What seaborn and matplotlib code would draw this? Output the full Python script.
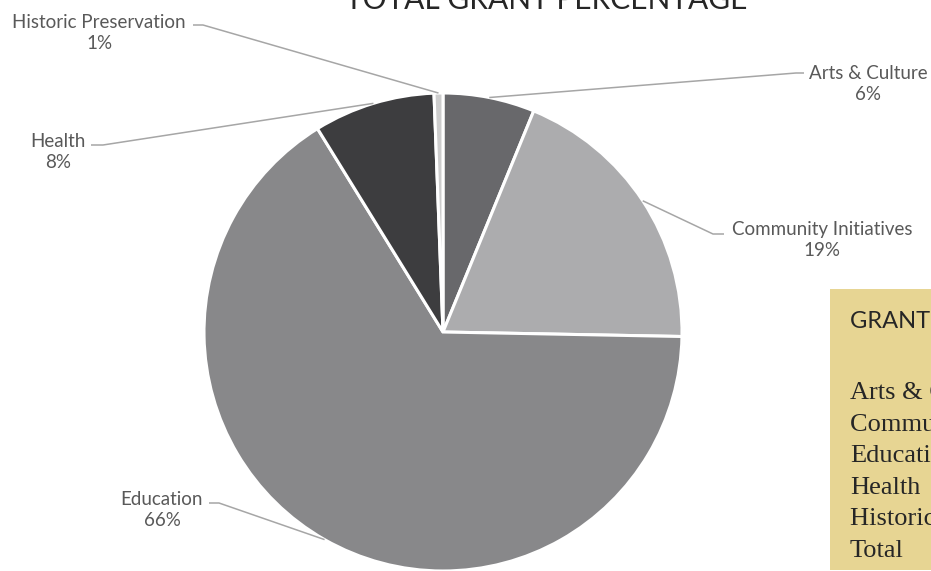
import matplotlib
matplotlib.use("Agg")
import numpy as np
import matplotlib.pyplot as plt
from matplotlib.patches import Rectangle
import seaborn as sns

# Datos del gráfico
categories = ["Arts & Culture", "Community Initiatives", "Education",
              "Health", "Historic Preservation"]
shares = [6.2, 19.1, 65.9, 8.2, 0.6]
slice_colors = ["#68686b", "#acacae", "#88888a", "#3d3d3f", "#cdcdcd"]
table_title = "GRANT TOTALS"
table_rows = ["Arts & Culture", "Community Initiatives", "Education",
              "Health", "Historic Preservation", "Total"]

# Geometría en píxeles de la imagen
W, H = 931, 571
CX, CY, R = 443, 332, 239


def px(x, y):
    """Convierte coordenadas de píxel a coordenadas del eje."""
    return (x - CX) / R, (CY - y) / R


# Posición de cada etiqueta: centro del texto, inicio y codo de la línea guía
label_layout = {
    "Arts & Culture": ((868, 84), (804, 73), (796, 73)),
    "Community Initiatives": ((822, 240), (724, 234), (713, 234)),
    "Education": ((162, 510), (209, 503), (219, 503)),
    "Health": ((58, 152), (91, 145), (103, 145)),
    "Historic Preservation": ((99, 33), (193, 25), (203, 25)),
}

sns.set_theme(style="white")
plt.rcParams["font.family"] = ["Lato", "DejaVu Sans"]

fig = plt.figure(figsize=(W / 100, H / 100), dpi=100)
ax = fig.add_axes([0, 0, 1, 1])

wedges, _ = ax.pie(shares, colors=slice_colors, startangle=90, counterclock=False,
                   wedgeprops=dict(edgecolor="white", linewidth=2.2))
ax.set_xlim(-CX / R, (W - CX) / R)
ax.set_ylim(-(H - CY) / R, CY / R)
ax.set_aspect("auto")
ax.axis("off")

total = sum(shares)
for wedge, cat, val in zip(wedges, categories, shares):
    (tx, ty), start, elbow = label_layout[cat]
    mid = np.deg2rad((wedge.theta1 + wedge.theta2) / 2)
    edge = (np.cos(mid) * wedge.r, np.sin(mid) * wedge.r)
    p0, p1 = px(*start), px(*elbow)
    ax.plot([p0[0], p1[0], edge[0]], [p0[1], p1[1], edge[1]],
            color="#a6a6a6", lw=1.1, solid_capstyle="butt")
    ax.text(*px(tx, ty), f"{cat}\n{round(val / total * 100):.0f}%",
            ha="center", va="center", fontsize=13.5, color="#595959",
            linespacing=1.3)

# Título (cortado en la parte superior)
ax.text(*px(546, 9), "TOTAL GRANT PERCENTAGE", ha="center", va="baseline",
        fontsize=21.5, color="#262626")

# Recuadro con la tabla de totales
x0, y0 = px(830, 570)
ax.add_patch(Rectangle((x0, y0), (W + 10 - 830) / R, (570 - 289) / R,
                       facecolor="#e7d593", edgecolor="none"))
ax.text(*px(850, 328), table_title, ha="left", va="baseline",
        fontsize=17, color="#262626")
for i, row in enumerate(table_rows):
    ax.text(*px(850, 399 + i * 31.6), row, ha="left", va="baseline",
            fontsize=19, color="#262626", family=["Liberation Serif", "DejaVu Serif"])

fig.savefig("out.png", dpi=100)
